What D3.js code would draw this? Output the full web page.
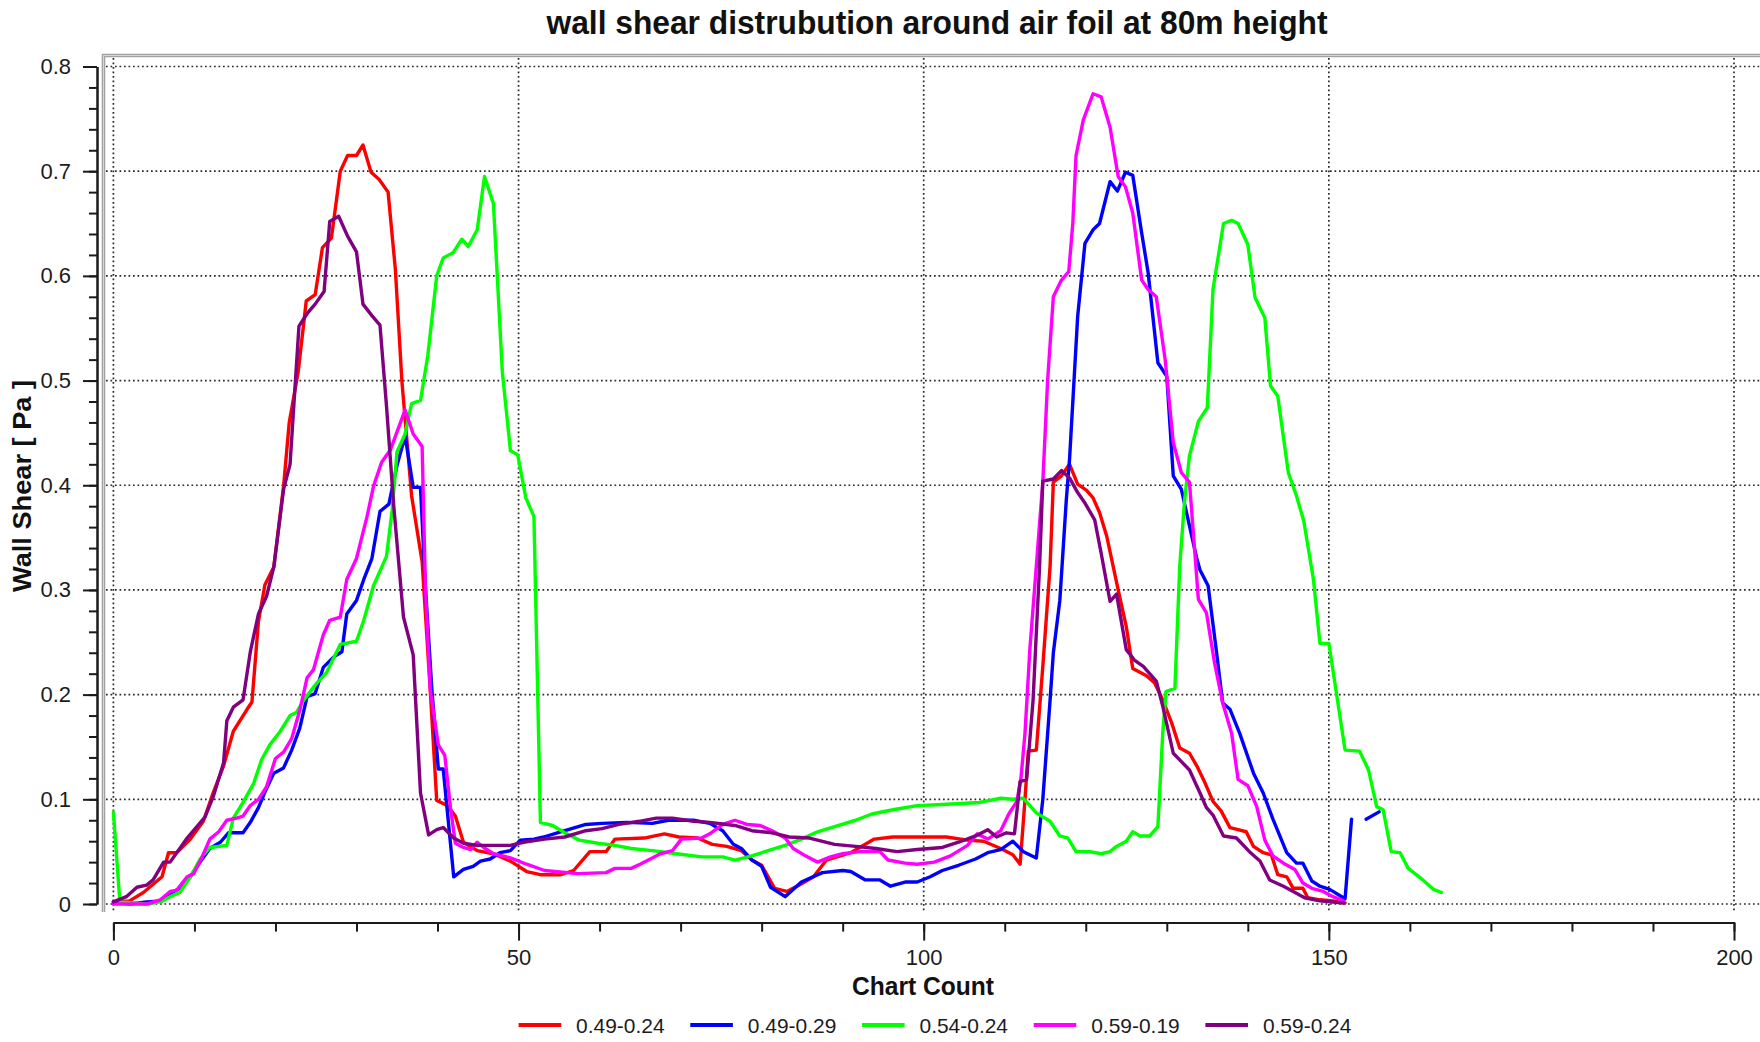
<!DOCTYPE html>
<html>
<head>
<meta charset="utf-8">
<script src="https://cdn.jsdelivr.net/npm/d3@7"></script>
<style>
  html, body { margin: 0; background: #ffffff; }
  svg { display: block; }
  text { font-family: "Liberation Sans", Arial, sans-serif; fill: #1c1c1c; }
</style>
</head>
<body>
<svg id="chart" width="1760" height="1042"></svg>
<script>
// Legend labels and line colours, in drawing order
const seriesNames  = ["0.49-0.24", "0.49-0.29", "0.54-0.24", "0.59-0.19", "0.59-0.24"];
const seriesColors = ["#ff0000", "#0000ff", "#00ff00", "#ff00ff", "#800080"];

// Axis ticks
const xTicks = [0, 50, 100, 150, 200];
const xMinorTicks = d3.range(0, 201, 10);
const yTicks = [0, 0.1, 0.2, 0.3, 0.4, 0.5, 0.6, 0.7, 0.8];
const yMinorTicks = d3.range(0, 41).map(i => i * 0.02);

// Wall shear [Pa] against chart count, one list of [count, shear] per case
const shear_049_024 = [
  [0,0.002],[2,0.003],[3.7,0.011],[6,0.026],[6.8,0.049],[7.8,0.049],[9.5,0.062],[11.1,0.079],
  [12.3,0.106],[13.6,0.132],[14.8,0.165],[16.5,0.186],[17.1,0.193],[17.9,0.27],[18.7,0.305],
  [19.8,0.322],[21,0.399],[21.7,0.46],[22.8,0.508],[23.8,0.576],[24.9,0.582],[25.8,0.627],
  [26.9,0.636],[28,0.7],[28.9,0.715],[30,0.715],[30.8,0.725],[31.8,0.699],[32.8,0.692],
  [33.9,0.68],[34.8,0.606],[35.6,0.5],[36.8,0.39],[38.1,0.327],[39.1,0.205],[39.9,0.099],
  [41.2,0.094],[42.2,0.084],[43.2,0.059],[44.9,0.051],[46.9,0.048],[49,0.041],[51,0.031],
  [52.7,0.028],[55.2,0.028],[56.8,0.032],[58.8,0.05],[60.8,0.05],[61.9,0.062],[65.5,0.063],
  [68,0.067],[69.8,0.064],[72.1,0.063],[73.9,0.057],[75.7,0.055],[77.5,0.051],[78.8,0.042],
  [80,0.037],[81.6,0.015],[83.1,0.012],[84.6,0.018],[86.4,0.026],[88,0.042],[91,0.049],
  [93.9,0.062],[96.2,0.064],[99.2,0.064],[102.8,0.064],[105.4,0.061],[107.4,0.06],[109.5,0.053],
  [111,0.047],[111.9,0.038],[112.5,0.1],[112.9,0.146],[113.9,0.147],[114.7,0.227],[115.6,0.323],
  [116,0.403],[117,0.409],[118,0.42],[119,0.401],[120.1,0.395],[120.9,0.388],[121.7,0.374],
  [122.6,0.351],[124,0.3],[125,0.265],[125.8,0.225],[127.5,0.218],[128.5,0.211],[129.5,0.195],
  [130.6,0.173],[131.6,0.149],[132.8,0.144],[133.7,0.132],[134.7,0.116],[135.7,0.098],
  [136.7,0.089],[137.8,0.073],[138.8,0.071],[139.8,0.069],[140.7,0.055],[141.9,0.049],
  [142.9,0.047],[143.7,0.028],[144.8,0.026],[145.6,0.015],[146.8,0.015],[147.4,0.006],
  [148.9,0.004],[150.5,0.003],[152,0.001]
];

const shear_049_029 = [
  [0,0.002],[2,0.0],[4.1,0.002],[6,0.003],[7,0.01],[8.2,0.015],[9.5,0.026],[10.7,0.04],
  [11.9,0.053],[13.2,0.059],[14.2,0.068],[16,0.068],[16.9,0.078],[17.9,0.092],[18.7,0.107],
  [19.8,0.125],[21,0.13],[22,0.147],[23,0.168],[23.9,0.198],[24.9,0.201],[25.9,0.226],
  [27.2,0.236],[28.2,0.241],[28.8,0.277],[30,0.29],[30.9,0.31],[31.9,0.33],[32.9,0.375],
  [34,0.382],[35,0.419],[36,0.447],[37,0.398],[37.9,0.398],[38.5,0.304],[39.3,0.205],
  [40.1,0.129],[40.7,0.129],[42,0.026],[43.2,0.033],[44.4,0.036],[45.3,0.041],[46.5,0.043],
  [47.7,0.049],[49,0.051],[50.2,0.061],[51.9,0.062],[53.1,0.064],[55.2,0.069],[58.3,0.076],
  [60.3,0.077],[63.4,0.078],[66.5,0.077],[68.5,0.08],[71.6,0.08],[73.6,0.077],[75.2,0.07],
  [76.5,0.057],[77.5,0.053],[78.8,0.042],[80,0.036],[81.1,0.016],[82.9,0.007],[84.9,0.021],
  [87.5,0.03],[90,0.032],[91,0.031],[92.8,0.023],[94.6,0.023],[95.9,0.017],[97.7,0.021],
  [99.2,0.021],[100.8,0.026],[102.3,0.032],[104.3,0.037],[106.4,0.043],[107.9,0.049],
  [109.5,0.052],[111,0.06],[112.3,0.05],[113.9,0.044],[114.7,0.1],[115.6,0.195],[116,0.24],
  [116.8,0.29],[117.6,0.386],[118,0.425],[119,0.561],[119.9,0.631],[120.9,0.644],[121.7,0.65],
  [123,0.69],[123.9,0.681],[124.9,0.699],[125.8,0.696],[126.9,0.641],[127.7,0.603],
  [128.9,0.517],[130,0.504],[130.8,0.409],[131.8,0.396],[133.7,0.33],[134.1,0.319],
  [135.1,0.304],[136.1,0.243],[136.9,0.192],[137.8,0.186],[139,0.163],[140.7,0.125],
  [141.9,0.106],[143.1,0.081],[144.8,0.049],[146,0.039],[146.8,0.039],[147.9,0.022],
  [148.9,0.017],[150.1,0.014],[152,0.005],[152.8,0.081],[153.7,null],[154.6,0.081],[156.2,0.088]
];

const shear_054_024 = [
  [0,0.088],[0.8,0.002],[4.1,0.0],[5.8,0.002],[7,0.007],[8.2,0.011],[9.5,0.026],[10.7,0.043],
  [11.9,0.054],[14,0.056],[14.8,0.082],[16,0.097],[17.3,0.115],[18.3,0.138],[19.3,0.152],
  [20.6,0.165],[21.8,0.18],[22.6,0.183],[23.5,0.195],[25.1,0.211],[26.3,0.221],[28,0.248],
  [30,0.251],[30.9,0.271],[32.1,0.304],[33.7,0.332],[34.4,0.376],[35,0.432],[36,0.449],
  [36.8,0.478],[37.9,0.481],[38.8,0.524],[39.9,0.6],[40.7,0.617],[41.9,0.622],[43,0.635],
  [43.8,0.628],[44.9,0.644],[45.8,0.695],[46.9,0.669],[48,0.508],[49,0.433],[49.9,0.429],
  [50.9,0.388],[51.9,0.37],[52.7,0.078],[54.2,0.075],[55.7,0.068],[57.5,0.061],[59.8,0.058],
  [61.9,0.056],[63.9,0.053],[66.5,0.051],[69.5,0.048],[72.6,0.045],[75.2,0.045],[76.7,0.042],
  [78.8,0.046],[80.8,0.051],[82.9,0.056],[84.9,0.062],[86.9,0.069],[89,0.074],[91.6,0.08],
  [93.6,0.086],[96.2,0.09],[99.2,0.094],[102.3,0.095],[106.9,0.097],[109.5,0.101],[111,0.1],
  [112.3,0.101],[113.9,0.087],[115.6,0.079],[116.8,0.065],[117.8,0.063],[118.8,0.05],
  [120.5,0.05],[121.9,0.048],[123,0.05],[123.8,0.055],[125,0.06],[125.8,0.069],[126.7,0.065],
  [127.9,0.065],[128.9,0.074],[129.5,0.163],[129.9,0.203],[131,0.206],[131.6,0.323],
  [132.2,0.386],[132.8,0.428],[133.9,0.461],[135,0.474],[135.7,0.587],[137,0.65],[138,0.653],
  [138.8,0.65],[140,0.63],[140.9,0.579],[142.1,0.56],[142.8,0.495],[143.7,0.485],[145,0.412],
  [146,0.39],[146.9,0.366],[148.1,0.31],[148.9,0.249],[150,0.249],[152,0.147],[153.8,0.146],
  [154.9,0.128],[155.9,0.093],[156.7,0.09],[157.7,0.05],[158.8,0.049],[159.8,0.034],
  [161.6,0.023],[162.9,0.014],[163.9,0.011]
];

const shear_059_019 = [
  [0,0.0],[4.1,0.0],[5.8,0.004],[7,0.012],[7.8,0.013],[9.1,0.026],[9.9,0.029],[10.9,0.044],
  [11.9,0.062],[13,0.069],[14,0.08],[15.2,0.082],[16,0.084],[16.9,0.094],[17.9,0.1],
  [18.9,0.112],[20,0.139],[21,0.145],[22,0.158],[23,0.185],[23.9,0.216],[24.7,0.224],
  [25.9,0.257],[26.7,0.271],[28,0.274],[28.8,0.31],[30,0.33],[31.3,0.37],[32.1,0.399],
  [33.1,0.422],[34.2,0.434],[36,0.472],[37,0.449],[38.1,0.437],[38.5,0.304],[39.1,0.205],
  [40.1,0.152],[40.9,0.142],[41.6,0.092],[42.2,0.058],[43.2,0.054],[44.1,0.052],[44.9,0.059],
  [45.7,0.054],[46.9,0.048],[49,0.044],[51,0.038],[53.2,0.032],[57.3,0.029],[60.8,0.03],
  [61.9,0.034],[63.9,0.034],[65,0.038],[66.5,0.044],[67.5,0.048],[69,0.051],[70.1,0.062],
  [72.6,0.063],[73.6,0.067],[75.2,0.076],[76.7,0.08],[78.2,0.076],[79.8,0.075],[81.3,0.07],
  [82.9,0.063],[83.9,0.053],[85.4,0.046],[86.9,0.04],[88.5,0.045],[90,0.048],[92.1,0.05],
  [94.6,0.05],[95.6,0.042],[97.7,0.039],[99.2,0.038],[101.3,0.04],[103.3,0.046],[105.4,0.056],
  [106.6,0.067],[107.9,0.062],[109.5,0.07],[110.5,0.086],[111.5,0.098],[112,0.12],
  [112.5,0.163],[113.1,0.243],[113.9,0.323],[114.7,0.403],[115.3,0.501],[116,0.58],[117,0.596],
  [117.9,0.604],[118.4,0.65],[118.8,0.715],[119.7,0.749],[120.9,0.774],[121.9,0.771],
  [123,0.742],[124,0.695],[124.9,0.685],[125.8,0.66],[126.9,0.596],[127.7,0.587],[128.7,0.58],
  [129.8,0.52],[130.8,0.441],[131.8,0.412],[132.8,0.403],[133.9,0.291],[134.9,0.278],
  [135.9,0.23],[136.9,0.192],[138,0.163],[138.8,0.119],[140,0.113],[141.1,0.093],[142.1,0.061],
  [143.1,0.046],[144.4,0.039],[145.8,0.033],[146.8,0.02],[147.9,0.015],[149.3,0.012],
  [150.5,0.007],[151.8,0.003]
];

const shear_059_024 = [
  [0,0.002],[1.6,0.007],[2.9,0.016],[4.1,0.018],[4.9,0.023],[6.2,0.04],[7,0.04],[9.1,0.063],
  [11.3,0.083],[12.3,0.102],[13.6,0.135],[14,0.175],[14.8,0.188],[16,0.195],[16.9,0.241],
  [17.9,0.277],[18.9,0.294],[19.8,0.322],[21,0.396],[21.8,0.42],[22.9,0.552],[24,0.565],
  [24.9,0.573],[26,0.585],[26.7,0.652],[27.8,0.657],[28.9,0.638],[30,0.623],[30.8,0.573],
  [31.9,0.562],[32.9,0.553],[33.7,0.476],[34.6,0.38],[35.8,0.274],[37,0.238],[37.9,0.106],
  [38.9,0.066],[39.9,0.071],[40.7,0.073],[42,0.063],[43.2,0.058],[44.9,0.056],[49,0.056],
  [50.6,0.059],[53.2,0.062],[55.7,0.064],[58.3,0.07],[60.3,0.072],[62.4,0.076],[64.9,0.079],
  [67,0.082],[69,0.082],[71.6,0.079],[73.6,0.078],[76.7,0.075],[78.8,0.07],[81.3,0.068],
  [83.4,0.064],[85.9,0.063],[89,0.057],[91.6,0.055],[94.1,0.053],[96.7,0.05],[99.2,0.052],
  [102.3,0.054],[104.3,0.059],[106.4,0.065],[107.9,0.071],[109,0.064],[110.2,0.068],
  [111.2,0.067],[111.9,0.117],[112.7,0.119],[113.5,0.195],[114.3,0.323],[114.7,0.404],
  [116,0.406],[117,0.414],[118,0.407],[119,0.393],[119.9,0.383],[121.1,0.367],[121.9,0.335],
  [123,0.289],[123.8,0.296],[125,0.243],[126,0.233],[127.1,0.227],[128.7,0.213],[129.5,0.189],
  [130.8,0.144],[131.8,0.136],[132.8,0.128],[134.1,0.106],[134.9,0.092],[135.7,0.085],
  [137,0.065],[138.6,0.063],[140.2,0.05],[141.5,0.041],[142.7,0.023],[144.4,0.017],
  [145.6,0.012],[147,0.006],[148.9,0.003],[151.8,0.001]
];

const seriesData = [shear_049_024, shear_049_029, shear_054_024, shear_059_019, shear_059_024];

const svg = d3.select("#chart");

const x = d3.scaleLinear().domain([0, 200]).range([113.4, 1734]);
const y = d3.scaleLinear().domain([0, 0.8]).range([904, 66.5]);

// Title
svg.append("text")
  .attr("x", 937).attr("y", 34)
  .attr("text-anchor", "middle")
  .style("font-size", "33px").style("font-weight", "bold").style("fill", "#111")
  .attr("textLength", 781).attr("lengthAdjust", "spacingAndGlyphs")
  .text("wall shear distrubution around air foil at 80m height");

// Plot frame (top and left edges)
const frame = svg.append("g");
frame.append("path").attr("d", "M103.5,912V55.5H1760")
  .attr("fill", "none").attr("stroke", "#a3a3a3").attr("stroke-width", 3.6);
frame.append("path").attr("d", "M103.5,912V55.5H1760")
  .attr("fill", "none").attr("stroke", "#d6d6d6").attr("stroke-width", 1);

// Dotted grid
const grid = svg.append("g")
  .attr("stroke", "#2a2a2a").attr("stroke-width", 1.7).attr("stroke-dasharray", "1.7,2.8");
grid.selectAll(".h").data(yTicks).join("line")
  .attr("x1", 106).attr("x2", 1760)
  .attr("y1", d => y(d)).attr("y2", d => y(d));
grid.selectAll(".v").data(xTicks).join("line")
  .attr("x1", d => x(d)).attr("x2", d => x(d))
  .attr("y1", 58).attr("y2", 911);

// Y axis
const yAxisX = 97;
svg.append("g").attr("transform", `translate(${yAxisX},0)`)
  .call(d3.axisLeft(y).tickValues(yMinorTicks).tickSize(8).tickSizeOuter(0).tickFormat(""))
  .call(g => g.selectAll("line, path").attr("stroke", "#1a1a1a").attr("stroke-width", 2));
svg.append("g").attr("transform", `translate(${yAxisX},0)`)
  .call(d3.axisLeft(y).tickValues(yTicks).tickSize(14).tickSizeOuter(0).tickPadding(12)
    .tickFormat(d => d === 0 ? "0" : d3.format(".1f")(d)))
  .call(g => g.selectAll("line, path").attr("stroke", "#1a1a1a").attr("stroke-width", 2))
  .call(g => g.selectAll("text").style("font-size", "22px").style("font-family", null).attr("fill", "#1c1c1c"));

// X axis
const xAxisY = 922.6;
svg.append("g").attr("transform", `translate(0,${xAxisY})`)
  .call(d3.axisBottom(x).tickValues(xMinorTicks).tickSize(9).tickSizeOuter(0).tickFormat(""))
  .call(g => g.selectAll("line, path").attr("stroke", "#1a1a1a").attr("stroke-width", 2));
svg.append("g").attr("transform", `translate(0,${xAxisY})`)
  .call(d3.axisBottom(x).tickValues(xTicks).tickSize(18).tickSizeOuter(0).tickPadding(9)
    .tickFormat(d3.format("d")))
  .call(g => g.selectAll("line, path").attr("stroke", "#1a1a1a").attr("stroke-width", 2))
  .call(g => g.selectAll("text").style("font-size", "22px").style("font-family", null).attr("fill", "#1c1c1c"));

// Axis titles
svg.append("text")
  .attr("x", 923).attr("y", 995)
  .attr("text-anchor", "middle")
  .style("font-size", "25px").style("font-weight", "bold").style("fill", "#111")
  .attr("textLength", 142).attr("lengthAdjust", "spacingAndGlyphs")
  .text("Chart Count");

svg.append("text")
  .attr("transform", "translate(31,486) rotate(-90)")
  .attr("text-anchor", "middle")
  .style("font-size", "25px").style("font-weight", "bold").style("fill", "#111")
  .attr("textLength", 212).attr("lengthAdjust", "spacingAndGlyphs")
  .text("Wall Shear  [ Pa ]");

// Curves
const line = d3.line()
  .defined(d => d[1] !== null)
  .x(d => x(d[0]))
  .y(d => y(d[1]));

svg.append("g").selectAll("path").data(seriesData).join("path")
  .attr("d", d => line(d))
  .attr("fill", "none")
  .attr("stroke", (d, i) => seriesColors[i])
  .attr("stroke-width", 3.4)
  .attr("stroke-linejoin", "round")
  .attr("stroke-linecap", "round");

// Legend
const legend = svg.append("g").attr("transform", "translate(518.6,1025)");
const item = legend.selectAll("g").data(seriesNames).join("g")
  .attr("transform", (d, i) => `translate(${i * 171.7},0)`);
item.append("line")
  .attr("x1", 0).attr("x2", 42.6).attr("y1", 0).attr("y2", 0)
  .attr("stroke", (d, i) => seriesColors[i]).attr("stroke-width", 4);
item.append("text")
  .attr("x", 57.5).attr("y", 7.5)
  .style("font-size", "21px")
  .attr("textLength", 88.5).attr("lengthAdjust", "spacingAndGlyphs")
  .text(d => d);
</script>
</body>
</html>
